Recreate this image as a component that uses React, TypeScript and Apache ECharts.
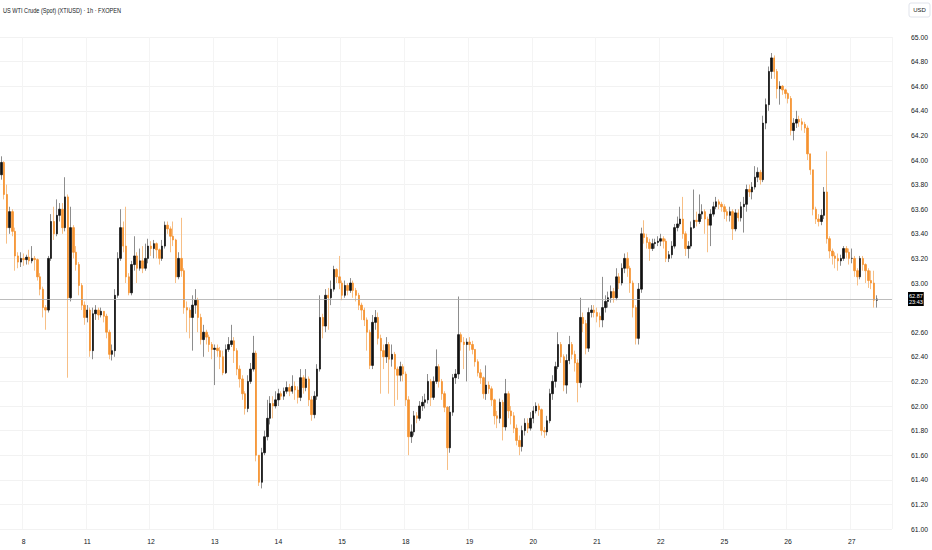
import * as echarts from "echarts";
import { useEffect, useRef } from "react";

// Hourly candles, one row per bar: [close, high, low]. Open is the previous close.
const firstOpen = 63.88;
const firstHour = 15; // the visible part of day 7 starts mid-session

const day07 = [
  [63.98, 64.03, 63.84], [63.72, 63.99, 63.68], [63.45, 63.8, 63.32], [63.58, 63.62, 63.4],
  [63.42, 63.6, 63.38], [63.22, 63.45, 63.1], [63.17, 63.25, 63.12], [63.2, 63.25, 63.13],
];
const day08 = [
  [63.19, 63.24, 63.14], [63.21, 63.23, 63.15], [63.18, 63.27, 63.15], [63.2, 63.3, 63.16],
  [63.19, 63.22, 63.1], [63.05, 63.2, 63.02], [62.95, 63.08, 62.9], [62.8, 62.97, 62.72],
  [62.78, 62.82, 62.62], [63.2, 63.22, 62.76], [63.5, 63.56, 63.18], [63.4, 63.62, 63.35],
  [63.55, 63.68, 63.38], [63.6, 63.65, 63.5], [63.45, 63.65, 63.4], [63.7, 63.86, 63.42],
  [62.88, 63.72, 62.23], [63.45, 63.62, 62.85], [63.25, 63.47, 63.2], [63.15, 63.3, 63.1],
  [62.98, 63.17, 62.9], [62.82, 63.0, 62.78], [62.72, 62.85, 62.66],
];
const day11 = [
  [62.78, 62.82, 62.68], [62.45, 62.8, 62.4], [62.75, 62.8, 62.38], [62.78, 62.82, 62.7],
  [62.74, 62.8, 62.7], [62.77, 62.8, 62.72], [62.73, 62.77, 62.68], [62.6, 62.75, 62.55],
  [62.42, 62.62, 62.38], [62.45, 62.5, 62.37], [62.9, 62.95, 62.4], [63.2, 63.25, 62.88],
  [63.45, 63.6, 63.18], [63.3, 63.5, 63.25], [63.05, 63.62, 63.0], [62.92, 63.08, 62.9],
  [63.15, 63.18, 62.9], [63.22, 63.38, 63.1], [63.12, 63.25, 63.0], [63.18, 63.28, 63.1],
  [63.12, 63.3, 63.08], [63.2, 63.32, 63.1], [63.3, 63.36, 63.16],
];
const day12 = [
  [63.28, 63.34, 63.22], [63.32, 63.35, 63.2], [63.27, 63.33, 63.2], [63.2, 63.28, 63.15],
  [63.3, 63.35, 63.18], [63.47, 63.5, 63.28], [63.44, 63.5, 63.4], [63.38, 63.46, 63.25],
  [63.35, 63.5, 63.3], [63.05, 63.36, 63.0], [63.2, 63.25, 63.03], [63.1, 63.53, 63.05],
  [62.8, 63.12, 62.75], [62.78, 62.85, 62.6], [62.72, 62.8, 62.55], [62.82, 62.9, 62.45],
  [62.86, 62.95, 62.75], [62.72, 62.88, 62.6], [62.54, 62.75, 62.5], [62.6, 62.66, 62.4],
  [62.56, 62.62, 62.5], [62.5, 62.58, 62.44], [62.46, 62.52, 62.38],
];
const day13 = [
  [62.47, 62.5, 62.17], [62.45, 62.5, 62.4], [62.4, 62.48, 62.3], [62.27, 62.45, 62.25],
  [62.46, 62.5, 62.26], [62.5, 62.56, 62.44], [62.53, 62.66, 62.48], [62.45, 62.56, 62.35],
  [62.3, 62.47, 62.25], [62.22, 62.33, 62.15], [62.1, 62.25, 62.05], [61.98, 62.12, 61.93],
  [62.2, 62.25, 61.95], [62.3, 62.35, 62.18], [62.43, 62.57, 62.28], [61.6, 62.45, 61.55],
  [61.38, 61.6, 61.35], [61.62, 61.66, 61.33], [61.75, 61.8, 61.6], [61.9, 62.05, 61.72],
  [62.02, 62.08, 61.85], [62.0, 62.08, 61.9], [62.05, 62.12, 61.98],
];
const day14 = [
  [62.1, 62.14, 62.0], [62.08, 62.12, 62.05], [62.12, 62.15, 62.05], [62.15, 62.2, 62.1],
  [62.12, 62.18, 62.08], [62.16, 62.25, 62.1], [62.13, 62.2, 62.05], [62.07, 62.16, 62.02],
  [62.23, 62.3, 62.04], [62.15, 62.25, 62.1], [62.22, 62.3, 62.12], [62.05, 62.24, 62.0],
  [61.93, 62.08, 61.88], [62.08, 62.12, 61.9], [62.3, 62.34, 62.05], [62.72, 62.9, 62.28],
  [62.65, 62.75, 62.55], [62.9, 62.95, 62.6], [62.88, 62.96, 62.62], [62.95, 63.02, 62.82],
  [63.11, 63.14, 62.93], [63.05, 63.12, 63.0], [63.0, 63.22, 62.95],
];
const day15 = [
  [62.9, 63.02, 62.86], [62.98, 63.02, 62.88], [62.94, 63.0, 62.9], [63.0, 63.04, 62.92],
  [62.94, 63.02, 62.88], [62.9, 62.96, 62.85], [62.82, 62.92, 62.78], [62.78, 62.84, 62.7],
  [62.7, 62.8, 62.65], [62.6, 62.72, 62.45], [62.33, 62.62, 62.3], [62.68, 62.74, 62.3],
  [62.72, 62.78, 62.62], [62.55, 62.76, 62.5], [62.45, 62.58, 62.1], [62.4, 62.5, 62.3],
  [62.5, 62.56, 62.35], [62.38, 62.52, 62.1], [62.42, 62.5, 62.32], [62.3, 62.44, 62.0],
  [62.25, 62.32, 62.05], [62.32, 62.36, 62.2], [62.26, 62.34, 62.2],
];
const day18 = [
  [62.05, 62.28, 62.0], [61.75, 62.08, 61.6], [61.79, 61.85, 61.7], [61.92, 61.96, 61.76],
  [61.9, 61.95, 61.86], [62.0, 62.04, 61.88], [62.03, 62.08, 61.96], [62.05, 62.1, 61.98],
  [62.2, 62.26, 62.02], [62.07, 62.22, 62.0], [62.2, 62.24, 62.05], [62.32, 62.46, 62.18],
  [62.2, 62.34, 62.15], [62.1, 62.22, 62.05], [61.99, 62.12, 61.95], [61.66, 62.0, 61.48],
  [61.95, 62.0, 61.62], [62.23, 62.26, 61.92], [62.26, 62.3, 62.18], [62.58, 62.89, 62.22],
  [62.52, 62.6, 62.45], [62.5, 62.56, 62.3], [62.52, 62.55, 62.2],
];
const day19 = [
  [62.5, 62.56, 62.45], [62.46, 62.53, 62.42], [62.36, 62.46, 62.32], [62.27, 62.38, 62.24],
  [62.23, 62.3, 62.18], [62.1, 62.24, 62.06], [62.17, 62.33, 62.05], [62.14, 62.2, 62.1],
  [62.05, 62.16, 62.0], [61.92, 62.06, 61.85], [61.9, 61.96, 61.82], [62.03, 62.06, 61.86],
  [61.83, 62.05, 61.72], [62.1, 62.22, 61.8], [61.96, 62.12, 61.9], [61.92, 62.0, 61.85],
  [61.82, 61.95, 61.78], [61.72, 61.85, 61.68], [61.67, 61.76, 61.6], [61.8, 61.84, 61.63],
  [61.86, 61.9, 61.76], [61.82, 61.9, 61.78], [61.9, 61.95, 61.8],
];
const day20 = [
  [61.96, 62.0, 61.86], [62.0, 62.03, 61.94], [61.97, 62.02, 61.92], [61.8, 61.98, 61.76],
  [61.79, 61.83, 61.74], [61.88, 61.92, 61.76], [62.1, 62.14, 61.86], [62.2, 62.25, 62.05],
  [62.32, 62.36, 62.15], [62.5, 62.6, 62.3], [62.4, 62.52, 62.35], [62.17, 62.42, 62.12],
  [62.37, 62.42, 62.1], [62.5, 62.57, 62.34], [62.42, 62.52, 62.38], [62.35, 62.45, 62.28],
  [62.19, 62.38, 62.03], [62.72, 62.88, 62.15], [62.67, 62.76, 62.6], [62.47, 62.7, 62.42],
  [62.76, 62.8, 62.44], [62.78, 62.82, 62.72], [62.76, 62.82, 62.72],
];
const day21 = [
  [62.73, 62.8, 62.68], [62.7, 62.76, 62.64], [62.8, 63.05, 62.64], [62.85, 62.9, 62.76],
  [62.88, 62.93, 62.8], [62.93, 62.98, 62.84], [62.88, 62.96, 62.84], [63.05, 63.12, 62.86],
  [63.0, 63.08, 62.95], [63.12, 63.16, 62.98], [63.2, 63.24, 63.08], [63.12, 63.25, 63.05],
  [63.0, 63.14, 62.92], [62.8, 63.02, 62.72], [62.55, 62.82, 62.5], [62.95, 63.0, 62.5],
  [63.4, 63.45, 62.92], [63.37, 63.51, 63.32], [63.33, 63.4, 63.28], [63.28, 63.36, 63.18],
  [63.32, 63.36, 63.26], [63.33, 63.36, 63.28], [63.34, 63.38, 63.3],
];
const day22 = [
  [63.36, 63.4, 63.3], [63.34, 63.38, 63.28], [63.2, 63.36, 63.17], [63.23, 63.26, 63.17],
  [63.3, 63.34, 63.2], [63.45, 63.48, 63.28], [63.48, 63.54, 63.42], [63.52, 63.62, 63.46],
  [63.4, 63.7, 63.36], [63.28, 63.42, 63.22], [63.3, 63.34, 63.2], [63.45, 63.5, 63.28],
  [63.51, 63.76, 63.44], [63.5, 63.58, 63.46], [63.56, 63.72, 63.48], [63.58, 63.64, 63.52],
  [63.52, 63.6, 63.4], [63.47, 63.54, 63.25], [63.56, 63.6, 63.3], [63.62, 63.66, 63.54],
  [63.66, 63.7, 63.6], [63.64, 63.68, 63.6], [63.62, 63.66, 63.58],
];
const day25 = [
  [63.58, 63.64, 63.52], [63.55, 63.6, 63.5], [63.58, 63.62, 63.5], [63.44, 63.6, 63.35],
  [63.57, 63.6, 63.42], [63.53, 63.6, 63.5], [63.62, 63.66, 63.5], [63.64, 63.7, 63.41],
  [63.76, 63.8, 63.58], [63.74, 63.8, 63.7], [63.78, 63.82, 63.68], [63.86, 63.95, 63.76],
  [63.9, 63.94, 63.82], [63.84, 63.92, 63.8], [64.3, 64.36, 63.82], [64.45, 64.5, 64.25],
  [64.72, 64.76, 64.4], [64.83, 64.87, 64.66], [64.72, 64.85, 64.66], [64.58, 64.74, 64.5],
  [64.6, 64.64, 64.45], [64.57, 64.61, 64.53], [64.54, 64.58, 64.5],
];
const day26 = [
  [64.5, 64.55, 64.46], [64.24, 64.52, 64.2], [64.3, 64.34, 64.16], [64.33, 64.4, 64.26],
  [64.31, 64.36, 64.27], [64.29, 64.34, 64.24], [64.26, 64.31, 64.22], [64.05, 64.28, 64.0],
  [63.92, 64.05, 63.88], [63.6, 63.92, 63.55], [63.52, 63.62, 63.48], [63.5, 63.56, 63.46],
  [63.55, 63.6, 63.47], [63.74, 63.78, 63.52], [63.36, 64.07, 63.32], [63.26, 63.38, 63.2],
  [63.22, 63.28, 63.15], [63.2, 63.25, 63.12], [63.18, 63.24, 63.1], [63.2, 63.23, 63.14],
  [63.28, 63.3, 63.18], [63.25, 63.3, 63.2], [63.2, 63.28, 63.15],
];
const day27 = [
  [63.2, 63.28, 63.16], [63.1, 63.22, 63.05], [63.05, 63.12, 62.98], [63.2, 63.22, 63.03],
  [63.15, 63.22, 63.1], [63.1, 63.16, 63.0], [63.02, 63.12, 62.96], [63.0, 63.1, 62.95],
  [62.86, 63.1, 62.8], [62.87, 62.9, 62.8],
];

const dayLabels = ["7", "8", "11", "12", "13", "14", "15", "18", "19", "20", "21", "22", "25", "26", "27"];
const dayRows = [day07, day08, day11, day12, day13, day14, day15, day18, day19, day20, day21, day22, day25, day26, day27];

const yTicks = { min: 61, max: 65, step: 0.2 };
const title = "US WTI Crude (Spot) (XTIUSD) · 1h · FXOPEN";
const currency = "USD";
const countdown = "23:43";
const emptySlots = 5; // free space right of the last bar

const UP = "#111111";
const DOWN = "#f5922f";
const UP_WICK = "#8d8d8d";
const DOWN_WICK = "#f7bf86";
const TEXT = "#131722";
const FONT = "'Liberation Sans Narrow', 'Liberation Sans', Arial, sans-serif";

// build categories and [open, close, low, high] rows
const categories: string[] = [];
const labelIndex = new Set<number>();
const ohlc: number[][] = [];
let prevClose = firstOpen;
dayRows.forEach((rows, d) => {
  const start = d === 0 ? firstHour : 0;
  rows.forEach(([c, h, l], k) => {
    if (d > 0 && k === 0) labelIndex.add(categories.length);
    categories.push(`${dayLabels[d]}-${start + k}`);
    const o = prevClose;
    ohlc.push([o, c, Math.min(l, o, c), Math.max(h, o, c)]);
    prevClose = c;
  });
});
const lastDay = dayLabels[dayLabels.length - 1];
const lastHour = day27.length;
for (let k = 0; k < emptySlots; k++) categories.push(`${lastDay}-${lastHour + k}`);
const lastClose = prevClose;

const bodies = ohlc.map(([o, c]) => [o, c, Math.min(o, c), Math.max(o, c)]);

export default function App() {
  const chartRef = useRef<HTMLDivElement>(null);

  useEffect(() => {
    if (!chartRef.current) return;
    const chart = echarts.init(chartRef.current, undefined, { renderer: "svg" });

    chart.setOption({
      animation: false,
      backgroundColor: "#ffffff",
      textStyle: { fontFamily: FONT },
      grid: { left: 0, right: 40, top: 37, bottom: 21 },
      xAxis: {
        type: "category",
        data: categories,
        boundaryGap: true,
        axisLine: { show: false },
        axisTick: { show: false },
        axisLabel: {
          interval: (i: number) => labelIndex.has(i),
          formatter: (v: string) => v.split("-")[0],
          color: TEXT,
          fontSize: 6.8,
          fontFamily: FONT,
          margin: 9,
        },
        splitLine: {
          show: true,
          interval: (i: number) => labelIndex.has(i),
          lineStyle: { color: "#f4f4f4", width: 1 },
        },
      },
      yAxis: {
        type: "value",
        position: "right",
        min: yTicks.min,
        max: yTicks.max,
        interval: yTicks.step,
        scale: true,
        axisLine: { show: false },
        axisTick: { show: false },
        axisLabel: {
          // the tick hidden behind the last-price box is not drawn
          formatter: (v: number) => (Math.abs(v - lastClose) < 0.1 ? "" : v.toFixed(2)),
          color: TEXT,
          fontSize: 6.8,
          fontFamily: FONT,
          margin: 19,
        },
        splitLine: { lineStyle: { color: "#f2f2f2", width: 1 } },
      },
      graphic: [
        {
          type: "text",
          x: 3,
          y: 10,
          scaleX: 0.8,
          style: {
            text: title,
            fill: TEXT,
            fontSize: 7,
            fontFamily: FONT,
            verticalAlign: "middle",
          },
        },
        {
          type: "rect",
          shape: { x: 909, y: 3, width: 21, height: 14, r: 2 },
          style: { fill: "#ffffff", stroke: "#e0e3eb", lineWidth: 1 },
        },
        {
          type: "text",
          x: 919.5,
          y: 10,
          style: {
            text: currency,
            fill: TEXT,
            fontSize: 6,
            fontFamily: FONT,
            align: "center",
            verticalAlign: "middle",
          },
        },
      ],
      series: [
        {
          // wicks
          type: "candlestick",
          data: ohlc,
          barWidth: "30%",
          silent: true,
          itemStyle: {
            color: UP_WICK,
            color0: DOWN_WICK,
            borderColor: UP_WICK,
            borderColor0: DOWN_WICK,
            borderWidth: 1,
          },
        },
        {
          // bodies
          type: "candlestick",
          data: bodies,
          barWidth: "70%",
          silent: true,
          itemStyle: {
            color: UP,
            color0: DOWN,
            borderColor: UP,
            borderColor0: DOWN,
            borderWidth: 0.7,
          },
          markLine: {
            silent: true,
            symbol: ["none", "none"],
            lineStyle: { color: "#ababab", width: 0.8, type: "solid" },
            label: {
              position: "end",
              distance: 16,
              formatter: () => `${lastClose.toFixed(2)}\n${countdown}`,
              color: "#ffffff",
              backgroundColor: "#000000",
              fontSize: 5.5,
              lineHeight: 6.5,
              fontFamily: FONT,
              padding: [0.5, 1],
            },
            data: [{ yAxis: lastClose }],
          },
        },
      ],
    });

    return () => chart.dispose();
  }, []);

  return (
    <div
      ref={chartRef}
      style={{
        position: "fixed",
        left: 0,
        top: 0,
        width: 932,
        height: 550,
        background: "#ffffff",
      }}
    />
  );
}
